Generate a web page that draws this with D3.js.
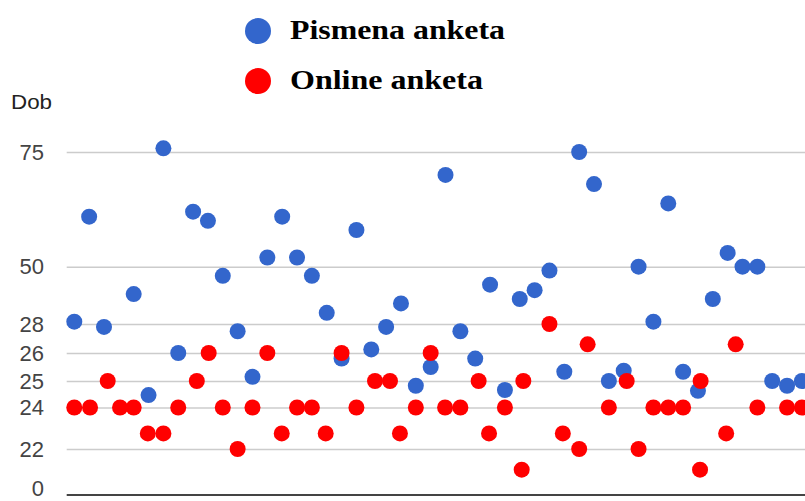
<!DOCTYPE html>
<html>
<head>
<meta charset="utf-8">
<script src="https://cdn.jsdelivr.net/npm/d3@7"></script>
<style>
  html, body { margin: 0; padding: 0; background: #fff; }
  svg { display: block; }
</style>
</head>
<body>
<div id="chart"></div>
<script>
// ---- data ----
const seriesNames = ["Pismena anketa", "Online anketa"];
const seriesColors = ["#3366cc", "#ff0000"];
const yTickValues = [0, 22, 24, 25, 26, 28, 50, 75];
const yAxisTitle = "Dob";

const pismenaX = [0, 1, 2, 4, 5, 6, 7, 8, 9, 10, 11, 12, 13, 14, 15, 16, 17, 18, 19, 20,
  21, 22, 23, 24, 25, 26, 27, 28, 29, 30, 31, 32, 33, 34, 35, 36, 37, 38, 39, 40,
  41, 42, 43, 44, 45, 46, 47, 48, 49];
const pismenaAge = [28.9, 60.9, 27.8, 39.5, 24.47, 75.8, 26, 62, 60, 46.5, 27.5, 25.15, 52, 60.9, 52, 46.5, 32.3, 25.8, 58, 26.25,
  27.8, 35.9, 24.82, 25.5, 70, 27.5, 25.8, 43.1, 24.66, 37.6, 41, 48.5, 25.33, 75, 68, 25, 25.37, 50, 28.9, 63.8,
  25.33, 24.63, 37.6, 53, 50, 50, 25, 24.82, 25];

const onlineX = [0, 1.06, 2.25, 3.08, 4, 4.95, 6, 7, 8.25, 9.05, 10, 11, 12, 13, 13.97, 15, 16, 16.93, 18, 19,
  20.25, 21.26, 21.93, 23, 24, 24.97, 26, 27.23, 27.93, 29, 30.13, 30.24, 32, 32.9, 34, 34.57, 36, 37.2, 38, 39,
  40, 41, 42.18, 42.14, 43.9, 44.54, 46, 48, 49];
const onlineAge = [24, 24, 25, 24, 24, 22.75, 22.75, 24, 25, 26, 24, 22, 24, 26, 22.75, 24, 24, 22.75, 26, 24,
  25, 25, 22.75, 24, 26, 24, 24, 25, 22.75, 24, 12, 25, 28, 22.75, 22, 26.6, 24, 25, 22, 24,
  24, 24, 25, 12, 22.75, 26.6, 24, 24, 24];

// ---- layout ----
const W = 805, H = 501;
const plotLeft = 66.7, plotRight = 805;
const pointR = 8;

const svg = d3.select("#chart").append("svg")
  .attr("width", W).attr("height", H)
  .style("background", "#fff");

const x = d3.scaleLinear().domain([0, 49]).range([74.3, 801.9]);
const y = d3.scaleLinear()
  .domain(yTickValues)
  .range([494.5, 449, 407.5, 381, 353, 324, 266.7, 152]);

// y axis with gridlines
const yAxis = d3.axisLeft(y)
  .tickValues(yTickValues)
  .tickFormat(d3.format("d"))
  .tickSize(-(plotRight - plotLeft))
  .tickPadding(22.7);

const gy = svg.append("g")
  .attr("transform", `translate(${plotLeft},0)`)
  .call(yAxis);
gy.select(".domain").remove();
gy.selectAll(".tick line")
  .attr("stroke", "#cccccc")
  .attr("stroke-width", 1.5);
gy.selectAll(".tick line").filter(d => d === 0)
  .attr("stroke", "#444444")
  .attr("stroke-width", 2.2);
gy.selectAll(".tick text")
  .attr("fill", "#444")
  .style("font-family", "Arial, 'Liberation Sans', sans-serif")
  .style("font-size", "22px");
// keep the bottom label inside the picture
gy.selectAll(".tick text").filter(d => d === 0)
  .attr("dy", "0.04em");

// axis title
svg.append("text")
  .attr("x", 11).attr("y", 109)
  .attr("fill", "#222")
  .attr("textLength", 41)
  .attr("lengthAdjust", "spacingAndGlyphs")
  .style("font-family", "Arial, 'Liberation Sans', sans-serif")
  .style("font-size", "21px")
  .text(yAxisTitle);

// points: blue first, red on top
const pismena = pismenaX.map((v, i) => ({ x: v, y: pismenaAge[i] }));
const online = onlineX.map((v, i) => ({ x: v, y: onlineAge[i] }));

svg.append("g").selectAll("circle").data(pismena).join("circle")
  .attr("cx", d => x(d.x)).attr("cy", d => y(d.y)).attr("r", pointR)
  .attr("fill", seriesColors[0]);

svg.append("g").selectAll("circle").data(online).join("circle")
  .attr("cx", d => x(d.x)).attr("cy", d => y(d.y)).attr("r", pointR)
  .attr("fill", seriesColors[1]);

// legend
const legendY = [31, 81];
const legendLen = [215, 193];
const lg = svg.append("g");
seriesNames.forEach((name, i) => {
  lg.append("circle")
    .attr("cx", 258).attr("cy", legendY[i]).attr("r", 13)
    .attr("fill", seriesColors[i]);
  lg.append("text")
    .attr("x", 290).attr("y", legendY[i] + 7.5)
    .attr("fill", "#000")
    .attr("textLength", legendLen[i])
    .attr("lengthAdjust", "spacingAndGlyphs")
    .style("font-family", "'Liberation Serif', 'Times New Roman', serif")
    .style("font-weight", "bold")
    .style("font-size", "28px")
    .text(name);
});
</script>
</body>
</html>
